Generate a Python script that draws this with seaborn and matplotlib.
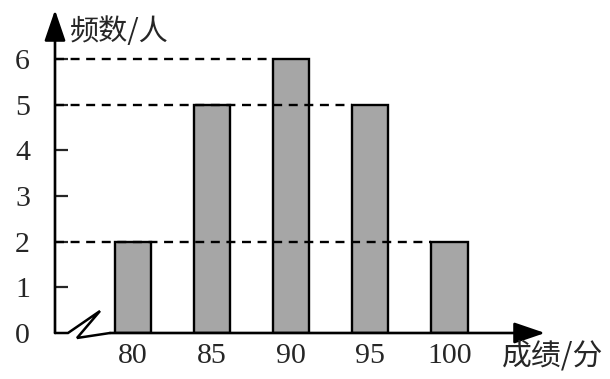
import matplotlib
matplotlib.use("Agg")
import matplotlib.pyplot as plt
import seaborn as sns
import pandas as pd

# ---- data ----
scores = [80, 85, 90, 95, 100]
freqs = [2, 5, 6, 5, 2]
y_ticks = [0, 1, 2, 3, 4, 5, 6]
x_label = "成绩/分"
y_label = "频数/人"

sns.set_style("white")
plt.rcParams['font.family'] = ['Liberation Serif', 'Noto Sans CJK SC']

W, H = 610, 379
fig = plt.figure(figsize=(W / 100, H / 100), dpi=100)

# axes box: left spine at px 55, bottom at px 333, arrow tips at x=545 / y=10
left, right, top, bottom = 55, 545, 10, 333
ax = fig.add_axes([left / W, (H - bottom) / H, (right - left) / W, (bottom - top) / H])

px_per_unit_x = (449.5 - 133) / 20.0
px_per_unit_y = (333 - 59) / 6.0
x0 = 80 - (133 - left) / px_per_unit_x
x1 = 80 + (right - 133) / px_per_unit_x
y1 = (bottom - top) / px_per_unit_y
ax.set_xlim(x0, x1)
ax.set_ylim(0, y1)

df = pd.DataFrame({"score": scores, "freq": freqs})
bar_w_rel = 0.456
sns.barplot(data=df, x="score", y="freq", native_scale=True, width=bar_w_rel,
            color="#a6a6a6", saturation=1, edgecolor="black", linewidth=1.7,
            ax=ax, zorder=2)

# dashed guide lines: from y axis to left edge of rightmost bar with that value
bw = bar_w_rel * 5
for v in sorted(set(freqs)):
    xs = [s for s, f in zip(scores, freqs) if f == v]
    ax.plot([x0, max(xs) - bw / 2], [v, v], color="black", lw=1.7,
            linestyle=(0, (3.8, 2.8)), zorder=3, clip_on=False)

for s in ax.spines.values():
    s.set_visible(False)

arrow_style = "-|>,head_length=1.9,head_width=0.65"

# y axis with arrow
ax.annotate("", xy=(x0, y1), xytext=(x0, 0), xycoords="data",
            arrowprops=dict(arrowstyle=arrow_style,
                            color="black", lw=1.9, shrinkA=0, shrinkB=0),
            annotation_clip=False)

# x axis with zigzag break and arrow
def px2x(p):
    return 80 + (p - 133) / px_per_unit_x

def py2y(p):
    return (bottom - p) / px_per_unit_y

zz_x = [x0, px2x(68), px2x(100), px2x(77), px2x(110)]
zz_y = [0, 0, py2y(311), py2y(338), 0]
ax.plot(zz_x, zz_y, color="black", lw=1.8, clip_on=False, zorder=4,
        solid_joinstyle="miter")
ax.annotate("", xy=(x1, 0), xytext=(px2x(110), 0), xycoords="data",
            arrowprops=dict(arrowstyle=arrow_style,
                            color="black", lw=1.9, shrinkA=0, shrinkB=0),
            annotation_clip=False)

# ticks
ax.set_yticks(y_ticks)
ax.set_yticklabels([str(t) for t in y_ticks], fontsize=21.5)
ax.set_xticks(scores)
ax.set_xticklabels([str(s) for s in scores], fontsize=21.5)
ax.tick_params(axis="y", direction="in", length=9.5, width=1.6, pad=18, left=True)
ax.tick_params(axis="x", length=0, pad=7.5)
ax.yaxis.get_ticklines()[0].set_visible(False)
ax.set_xlabel("")
ax.set_ylabel("")

fig.text(70 / W, 1 - 32 / H, y_label, fontsize=21, family=['Noto Sans CJK SC'],
         ha="left", va="center")
fig.text(502 / W, 1 - 356 / H, x_label, fontsize=21.5, family=['Noto Sans CJK SC'],
         ha="left", va="center")

fig.savefig("out.png", dpi=100)
